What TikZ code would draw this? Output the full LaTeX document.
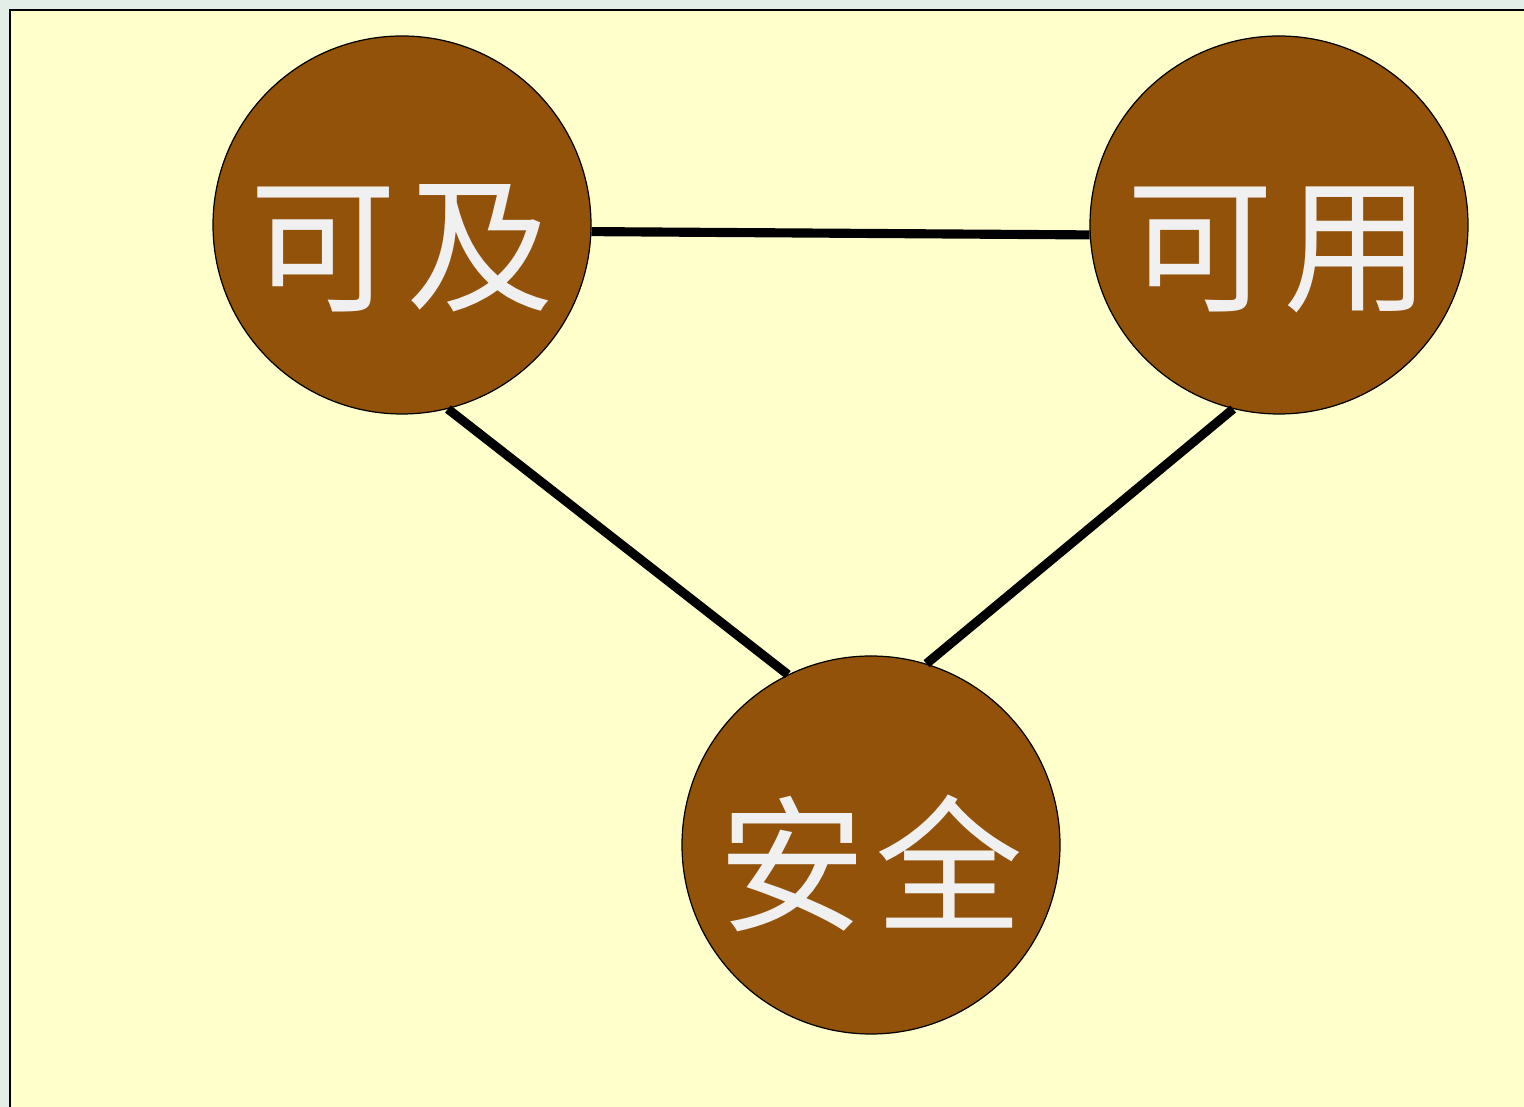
\documentclass[tikz,border=0pt]{standalone}
\usepackage{fontspec}
\newfontfamily\cjk{Noto Sans CJK SC}
\usetikzlibrary{positioning}
\definecolor{pageGray}  {RGB}{228,238,232}
\definecolor{paperYellow}{RGB}{255,255,204}
\definecolor{nodeBrown} {RGB}{146, 82, 10}
\definecolor{labelWhite}{RGB}{240,240,240}
\newcommand{\gapkern}{\kern0.2cm}

\begin{document}
\begin{tikzpicture}[
  topic/.style={circle, minimum size=7.56cm, inner sep=0pt,
    fill=nodeBrown, draw=black, line width=0.7pt,
    text height=3.4cm, text depth=0.36cm,
    text=labelWhite, font=\cjk\fontsize{84pt}{84pt}\selectfont},
  link/.style={line width=5.2pt, draw=black},
]

%% ── Page and background ──────────────────────────────────────────────────────
\useasboundingbox[fill=pageGray] (0,0) rectangle (30.48,22.14);
\fill[paperYellow] (0.2,-1) rectangle (31,21.94);
\draw[black, line width=1.1pt] (0.2,-1) -- (0.2,21.94) -- (31,21.94);

%% ── Three topics ─────────────────────────────────────────────────────────────
\node[topic] (KJ) at (8.04, 17.64)  {可\gapkern 及};
\node[topic] (KY) at (25.58, 17.64) {可\gapkern 用};
\node[topic] (AQ) at (17.42, 5.24)  {安\gapkern 全};

%% ── Links ────────────────────────────────────────────────────────────────────
\draw[link] (KJ.-2)   -- (KY.183);
\draw[link] (KJ.-76)  -- (AQ.116);
\draw[link] (KY.-104) -- (AQ.73);

\end{tikzpicture}
\end{document}
